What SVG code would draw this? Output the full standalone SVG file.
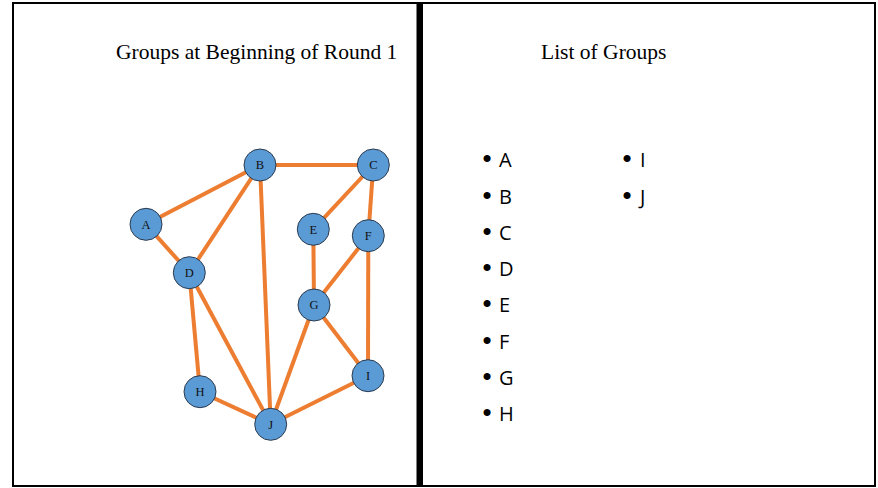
<svg xmlns="http://www.w3.org/2000/svg" width="878" height="488" viewBox="0 0 878 488">
<style>
.frame{fill:none;stroke:#000;stroke-width:2}
.title{font-family:"Liberation Serif",serif;font-size:21.5px;fill:#000}
.node circle{fill:#5B9BD5;stroke:#2B3A4E;stroke-width:1}
.node text{font-family:"Liberation Serif",serif;font-size:12.5px;fill:#111;text-anchor:middle}
.edges line{stroke:#ED7D31;stroke-width:4;stroke-linecap:butt}
.item{font-family:"Open Sans","Liberation Sans",sans-serif;font-size:20px;fill:#000}
.bul{font-family:"Liberation Sans",sans-serif;font-size:26px;fill:#000;text-anchor:middle}
</style>
<rect width="878" height="488" fill="#fff"/>
<rect class="frame" x="13" y="3" width="862" height="483"/>
<rect x="416.5" y="2" width="6.5" height="485" fill="#000"/>
<text class="title" x="116" y="59">Groups at Beginning of Round 1</text>
<text class="title" x="541" y="59">List of Groups</text>
<g class="edges" id="connectors">
<line x1="146" y1="224.3" x2="260" y2="165"/>
<line x1="146" y1="224.3" x2="189.3" y2="272.7"/>
<line x1="260" y1="165" x2="189.3" y2="272.7"/>
<line x1="260" y1="165" x2="373.3" y2="165"/>
<line x1="260" y1="165" x2="270.7" y2="424.3"/>
<line x1="373.3" y1="165" x2="313.3" y2="229.3"/>
<line x1="373.3" y1="165" x2="368.3" y2="235.7"/>
<line x1="313.3" y1="229.3" x2="314" y2="305"/>
<line x1="368.3" y1="235.7" x2="314" y2="305"/>
<line x1="368.3" y1="235.7" x2="368" y2="375.7"/>
<line x1="314" y1="305" x2="368" y2="375.7"/>
<line x1="314" y1="305" x2="270.7" y2="424.3"/>
<line x1="189.3" y1="272.7" x2="200" y2="391.7"/>
<line x1="189.3" y1="272.7" x2="270.7" y2="424.3"/>
<line x1="200" y1="391.7" x2="270.7" y2="424.3"/>
<line x1="368" y1="375.7" x2="270.7" y2="424.3"/>
</g>
<g class="node" id="node-A"><circle cx="146" cy="224.3" r="16"/><text x="146" y="228.6">A</text></g>
<g class="node" id="node-B"><circle cx="260" cy="165" r="16"/><text x="260" y="169.3">B</text></g>
<g class="node" id="node-C"><circle cx="373.3" cy="165" r="16"/><text x="373.3" y="169.3">C</text></g>
<g class="node" id="node-D"><circle cx="189.3" cy="272.7" r="16"/><text x="189.3" y="277">D</text></g>
<g class="node" id="node-E"><circle cx="313.3" cy="229.3" r="16"/><text x="313.3" y="233.6">E</text></g>
<g class="node" id="node-F"><circle cx="368.3" cy="235.7" r="16"/><text x="368.3" y="240">F</text></g>
<g class="node" id="node-G"><circle cx="314" cy="305" r="16"/><text x="314" y="309.3">G</text></g>
<g class="node" id="node-H"><circle cx="200" cy="391.7" r="16"/><text x="200" y="396">H</text></g>
<g class="node" id="node-I"><circle cx="368" cy="375.7" r="16"/><text x="368" y="380">I</text></g>
<g class="node" id="node-J"><circle cx="270.7" cy="424.3" r="16"/><text x="270.7" y="428.6">J</text></g>
<g id="list">
<text class="bul" x="487" y="167">•</text><text class="item" x="499" y="167">A</text>
<text class="bul" x="487" y="203.5">•</text><text class="item" x="499" y="203.5">B</text>
<text class="bul" x="487" y="240">•</text><text class="item" x="499" y="240">C</text>
<text class="bul" x="487" y="276">•</text><text class="item" x="499" y="276">D</text>
<text class="bul" x="487" y="312">•</text><text class="item" x="499" y="312">E</text>
<text class="bul" x="487" y="349">•</text><text class="item" x="499" y="349">F</text>
<text class="bul" x="487" y="385">•</text><text class="item" x="499" y="385">G</text>
<text class="bul" x="487" y="421">•</text><text class="item" x="499" y="421">H</text>
<text class="bul" x="627" y="167">•</text><text class="item" x="640" y="167">I</text>
<text class="bul" x="627" y="203.5">•</text><text class="item" x="640" y="203.5">J</text>
</g>
</svg>
